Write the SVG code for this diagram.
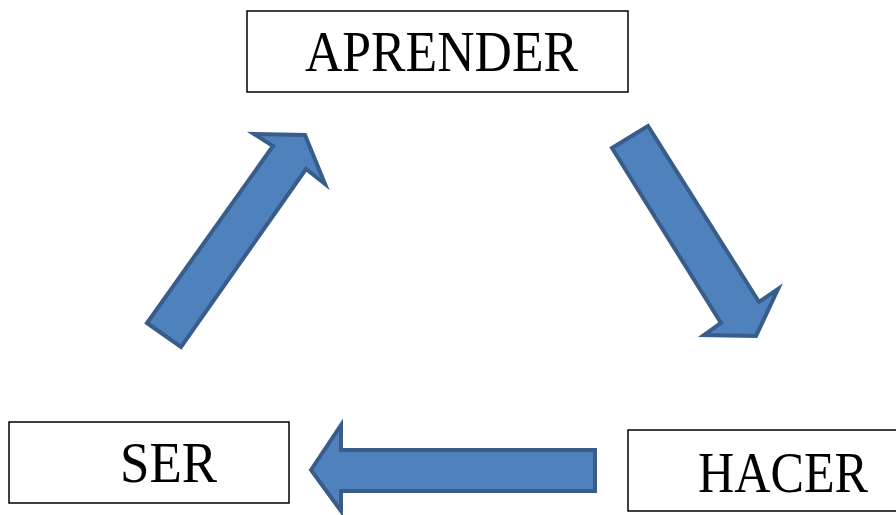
<svg xmlns="http://www.w3.org/2000/svg" width="896" height="515" viewBox="0 0 896 515">
<style>
.box{fill:#fff;stroke:#000;stroke-width:1.5}
.lbl{font-family:"Liberation Serif","Times New Roman",serif;font-size:58px;fill:#000}
.arr{fill:#4F81BD;stroke:#385D8A;stroke-width:4;stroke-linejoin:miter}
</style>
<rect width="896" height="515" fill="#fff"/>
<g id="aprender">
<rect class="box" x="247" y="11" width="381" height="81"/>
<text class="lbl" x="305" y="71" textLength="273" lengthAdjust="spacingAndGlyphs">APRENDER</text>
</g>
<g id="ser">
<rect class="box" x="9" y="422" width="280" height="81"/>
<text class="lbl" x="120" y="482" textLength="97" lengthAdjust="spacingAndGlyphs">SER</text>
</g>
<g id="hacer">
<rect class="box" x="628" y="430" width="290" height="81"/>
<text class="lbl" x="698" y="492" textLength="170" lengthAdjust="spacingAndGlyphs">HACER</text>
</g>
<g id="connectors">
<polygon class="arr" points="147,323 181,347 306,169 325,184 305,135 254,134 273,146"/>
<polygon class="arr" points="612,148 648,126 759,302 778,289 756,336 704,335 721,323"/>
<polygon class="arr" points="311,470 341,425 341,450 595,450 595,491 341,491 341,511"/>
</g>
</svg>
